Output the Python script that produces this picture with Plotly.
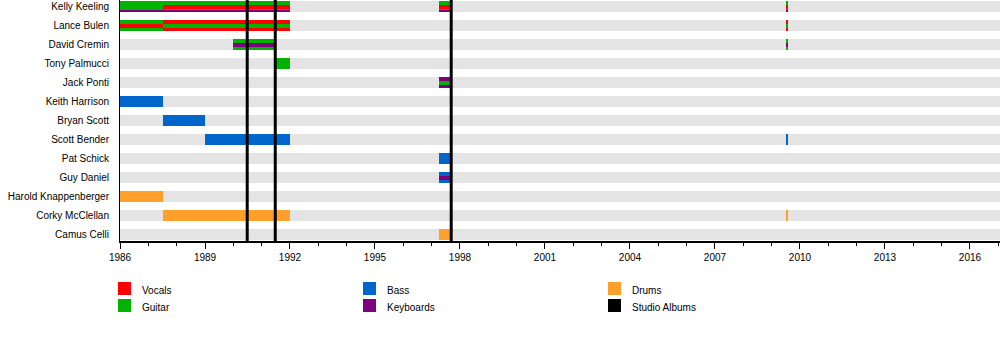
import plotly.graph_objects as go

# ---------------- data ----------------
members = ["Kelly Keeling", "Lance Bulen", "David Cremin", "Tony Palmucci",
           "Jack Ponti", "Keith Harrison", "Bryan Scott", "Scott Bender",
           "Pat Schick", "Guy Daniel", "Harold Knappenberger",
           "Corky McClellan", "Camus Celli"]

legend_labels = ["Vocals", "Guitar", "Bass", "Keyboards", "Drums", "Studio Albums"]
legend_colors = ["#FF0000", "#00B300", "#0066CC", "#7F007F", "#FFA02C", "#000000"]

timeline_start = 1986
timeline_end = 2017.06
tick_years = list(range(1986, 2017, 3))

# main (full-width) role bars: member, role, start, end
main_stints = [
    ("Kelly Keeling", "Guitar", 1986, 1992),
    ("Kelly Keeling", "Guitar", 1997.25, 1997.7),
    ("Kelly Keeling", "Guitar", 2009.52, 2009.57),
    ("Lance Bulen", "Guitar", 1986, 1987.5),
    ("Lance Bulen", "Vocals", 1987.5, 1992),
    ("Lance Bulen", "Vocals", 2009.52, 2009.57),
    ("David Cremin", "Guitar", 1990, 1991.5),
    ("David Cremin", "Guitar", 2009.52, 2009.57),
    ("Tony Palmucci", "Guitar", 1991.5, 1992),
    ("Jack Ponti", "Keyboards", 1997.25, 1997.7),
    ("Keith Harrison", "Bass", 1986, 1987.5),
    ("Bryan Scott", "Bass", 1987.5, 1989),
    ("Scott Bender", "Bass", 1989, 1992),
    ("Scott Bender", "Bass", 2009.52, 2009.57),
    ("Pat Schick", "Bass", 1997.25, 1997.7),
    ("Guy Daniel", "Bass", 1997.25, 1997.7),
    ("Harold Knappenberger", "Drums", 1986, 1987.5),
    ("Corky McClellan", "Drums", 1987.5, 1992),
    ("Corky McClellan", "Drums", 2009.52, 2009.57),
    ("Camus Celli", "Drums", 1997.25, 1997.7),
]

# secondary roles (thin centred stripe)
secondary_stints = [
    ("Kelly Keeling", "Vocals", 1987.5, 1992),
    ("Kelly Keeling", "Vocals", 1997.25, 1997.7),
    ("Kelly Keeling", "Vocals", 2009.52, 2009.57),
    ("Lance Bulen", "Vocals", 1986, 1987.5),
    ("Lance Bulen", "Guitar", 1987.5, 1992),
    ("Lance Bulen", "Guitar", 2009.52, 2009.57),
    ("David Cremin", "Keyboards", 1990, 1991.5),
    ("David Cremin", "Keyboards", 2009.52, 2009.57),
    ("Jack Ponti", "Guitar", 1997.25, 1997.7),
    ("Guy Daniel", "Keyboards", 1997.25, 1997.7),
]

# tertiary roles (thin bottom stripe)
tertiary_stints = [
    ("Kelly Keeling", "Keyboards", 1986, 1992),
    ("Kelly Keeling", "Keyboards", 1997.25, 1997.7),
    ("Kelly Keeling", "Keyboards", 2009.52, 2009.57),
]

studio_albums = [1990.49, 1991.48, 1997.69]

# ---------------- figure ----------------
W, H = 1000, 360
L, R, T, B = 120, 0, 0, 119
ROW_PX = 19.0
BAND_PX = 11.0
band = BAND_PX / ROW_PX
color_of = dict(zip(legend_labels, legend_colors))
FONT = "Liberation Sans, Arial, sans-serif"

fig = go.Figure()
idx = {m: i for i, m in enumerate(members)}

# grey background bands
fig.add_trace(go.Bar(
    orientation="h", y=list(range(len(members))),
    x=[timeline_end - timeline_start] * len(members),
    base=[timeline_start] * len(members),
    width=band, offset=-band / 2,
    marker=dict(color="#E4E4E4", line=dict(width=0)),
    showlegend=False, hoverinfo="skip"))


def add_layer(stints, width, offset):
    roles = []
    for s in stints:
        if s[1] not in roles:
            roles.append(s[1])
    for role in roles:
        sel = [s for s in stints if s[1] == role]
        fig.add_trace(go.Bar(
            orientation="h",
            y=[idx[s[0]] for s in sel],
            x=[s[3] - s[2] for s in sel],
            base=[s[2] for s in sel],
            width=width, offset=offset,
            marker=dict(color=color_of[role], line=dict(width=0)),
            name=role, showlegend=False,
            customdata=[s[0] for s in sel],
            hovertemplate="%{customdata}<br>" + role + "<extra></extra>"))


add_layer(main_stints, band, -band / 2)
sec_w = 4.0 / ROW_PX
add_layer(secondary_stints, sec_w, -sec_w / 2)
ter_w = 2.0 / ROW_PX
add_layer(tertiary_stints, ter_w, band / 2 - ter_w)

# studio album lines
for a in studio_albums:
    fig.add_shape(type="line", xref="x", yref="paper", x0=a, x1=a, y0=0, y1=1,
                  line=dict(color="black", width=3), layer="above")

# manual legend
plot_w = W - L - R
plot_h = H - T - B


def px_x(px):
    return (px - L) / plot_w


def px_y(py):
    return (H - B - py) / plot_h


col_x = [118, 363, 608]
row_y = [282, 299]
SQ = 13
for k, (lab, col) in enumerate(zip(legend_labels, legend_colors)):
    c, r = divmod(k, 2)
    x0, y0 = col_x[c], row_y[r]
    fig.add_shape(type="rect", xref="paper", yref="paper",
                  x0=px_x(x0), x1=px_x(x0 + SQ), y0=px_y(y0), y1=px_y(y0 + SQ),
                  fillcolor=col, line=dict(width=0))
    fig.add_annotation(xref="paper", yref="paper", x=px_x(x0 + 22),
                       y=px_y(y0 + SQ / 2 + 1.5), text=lab, showarrow=False,
                       xanchor="left", yanchor="middle",
                       font=dict(family=FONT, size=10, color="black"))

n = len(members)
pad = ((H - T - B) / ROW_PX - (n - 1)) / 2
fig.update_layout(
    width=W, height=H, margin=dict(l=L, r=R, t=T, b=B, autoexpand=False),
    paper_bgcolor="white", plot_bgcolor="white",
    barmode="overlay", bargap=0, showlegend=False,
    font=dict(family=FONT, size=10, color="black"),
    xaxis=dict(range=[timeline_start, timeline_end], tickmode="array",
               tickvals=tick_years, ticktext=[str(t) for t in tick_years],
               showgrid=False, zeroline=False, showline=True,
               linecolor="black", linewidth=1.5, ticks="outside", ticklen=6,
               tickwidth=1, tickcolor="black",
               minor=dict(dtick=1, tick0=1986, ticks="outside", ticklen=3,
                          tickcolor="black", tickwidth=1, showgrid=False),
               tickfont=dict(family=FONT, size=10, color="black")),
    yaxis=dict(range=[n - 1 + pad, -pad],
               tickmode="array", tickvals=list(range(n)),
               ticktext=members, showgrid=False, zeroline=False,
               showline=True, linecolor="black", linewidth=1, ticks="",
               ticklabelstandoff=8,
               tickfont=dict(family=FONT, size=10, color="black")),
)

fig.write_html("out.html",
               config={"displayModeBar": False},
               post_script="document.body.style.margin='0';"
                           "document.body.style.padding='0';")
